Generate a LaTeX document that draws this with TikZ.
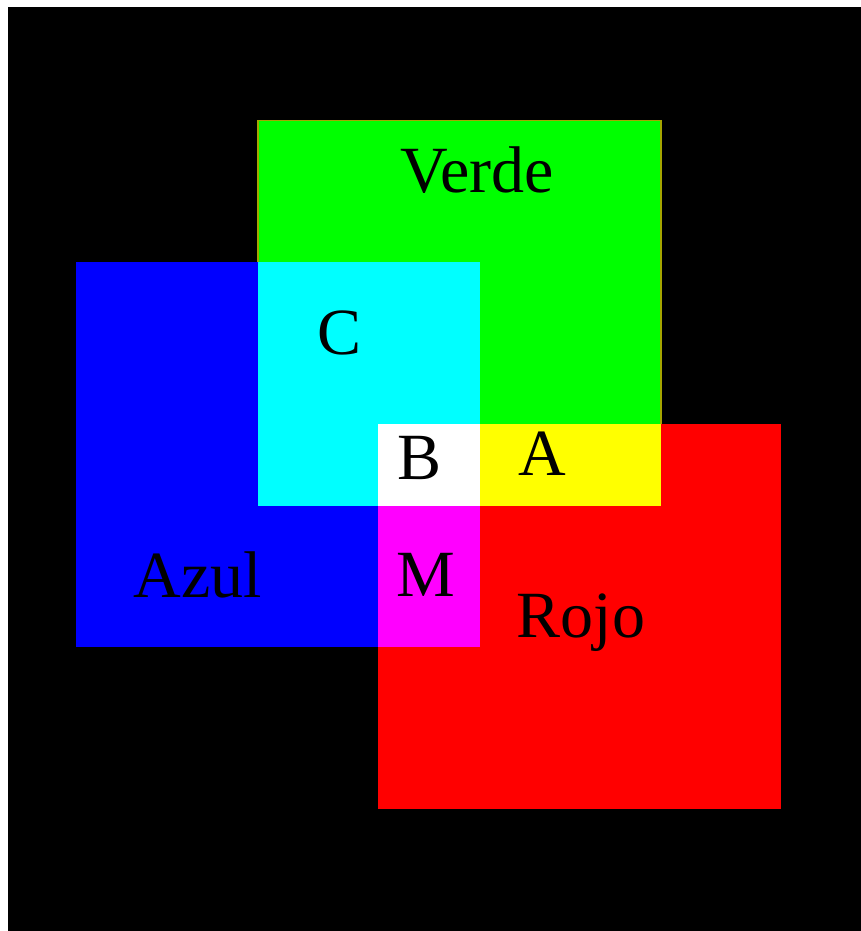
\documentclass[tikz,border=0pt]{standalone}
\usepackage{fontspec}
\setmainfont{Liberation Serif}
\definecolor{vgreen}{RGB}{0,255,0}
\definecolor{vblue}{RGB}{0,0,255}
\definecolor{vred}{RGB}{255,0,0}
\definecolor{vcyan}{RGB}{0,255,255}
\definecolor{vyellow}{RGB}{255,255,0}
\definecolor{vmag}{RGB}{255,0,255}
\definecolor{vedge}{RGB}{165,165,0}
\tikzset{
  lbl/.style={anchor=base, inner sep=0pt, text=black, font=\fontsize{66}{66}\selectfont},
}
\begin{document}
\begin{tikzpicture}[x=1pt,y=-1pt]
\useasboundingbox (0,0) rectangle (861,931);
\fill[white] (0,0) rectangle (861,931);
\fill[black] (8,7) rectangle (861,931);
% Verde
\filldraw[fill=vgreen, draw=vedge, line width=1.6pt] (258,120.5) rectangle (661,506);
% Azul
\fill[vblue] (76,262) rectangle (480,647);
% Rojo
\fill[vred] (378,424) rectangle (781,809);
% overlaps
\fill[vcyan] (258,262) rectangle (480,506);
\fill[vyellow] (480,424) rectangle (661,506);
\fill[vmag] (378,506) rectangle (480,647);
\fill[white] (378,424) rectangle (480,506);
% labels
\node[lbl] (verde) at (477,192) {Verde};
\node[lbl] (c) at (339.5,354) {C};
\node[lbl] (b) at (420,479) {B};
\node[lbl] (a) at (542,475) {A};
\node[lbl] (azul) at (198,597) {Azul};
\node[lbl] (m) at (426,596) {M};
\node[lbl] (rojo) at (581,637) {Rojo};
\end{tikzpicture}
\end{document}
